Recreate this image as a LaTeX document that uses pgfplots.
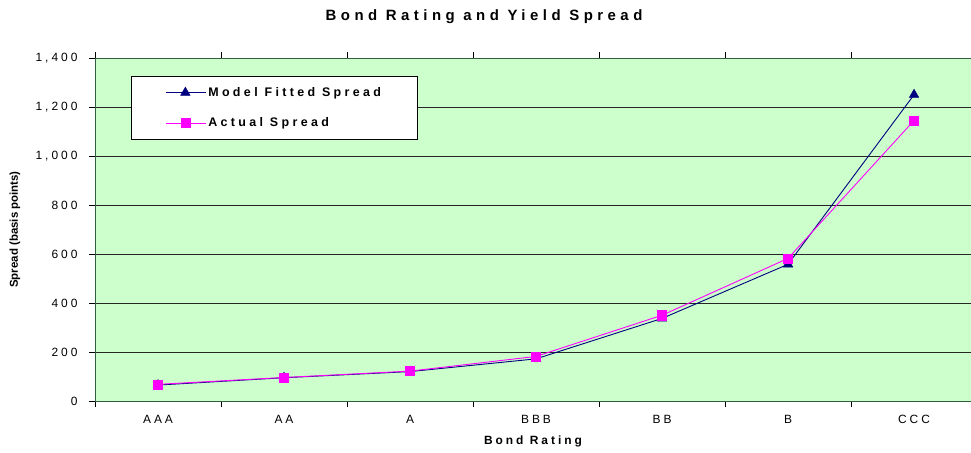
\documentclass[border=0pt]{standalone}
\usepackage{pgfplots}
\pgfplotsset{compat=1.18}
\usepackage{pgfplotstable}
\usepackage{fontspec}
\setmainfont{Liberation Sans}
\newfontfamily\spfont[LetterSpace=25]{Liberation Sans}
\newfontfamily\legfont[LetterSpace=27]{Liberation Sans}
\newfontfamily\titfont[LetterSpace=30]{Liberation Sans}
\definecolor{bg}{HTML}{CCFFCC}
\definecolor{navyc}{HTML}{000080}
\definecolor{magc}{HTML}{FF00FF}
\definecolor{framec}{HTML}{2F5F3F}

\pgfplotstableread{
x model actual
0 65 68
1 95 96
2 120 122
3 172 182
4 337 350
5 558 582
6 1250 1145
}\spreaddata

\begin{document}
\begin{tikzpicture}
\begin{axis}[
  name=main,
  at={(95bp,52bp)}, anchor=south west,
  scale only axis, width=876bp, height=343bp,
  xmin=-0.5, xmax=6.452, ymin=0, ymax=1400,
  axis background/.style={fill=bg},
  axis line style={draw=framec, line width=0.9pt},
  tick align=outside,
  major tick length=6bp, minor tick length=6bp,
  xtick={0,...,6},
  xticklabels={AAA,AA,A,BBB,BB,B,CCC},
  major x tick style={draw=none},
  minor xtick={-0.5,0.5,1.5,2.5,3.5,4.5,5.5},
  minor x tick style={draw=black, line width=0.8pt},
  ytick={0,200,...,1400},
  y tick style={draw=black, line width=0.8pt},
  ymajorgrids,
  major grid style={draw=black!85, line width=0.7pt},
  /pgf/number format/1000 sep={,},
  /pgf/number format/assume math mode=true,
  ticklabel style={font=\spfont\fontsize{12}{14}\selectfont},
  yticklabel style={xshift=-8bp},
  xticklabel style={yshift=-5bp},
  xlabel={Bond Rating},
  xlabel style={font=\spfont\bfseries\fontsize{12}{14}\selectfont, at={(axis description cs:0.5,-0.119)}, anchor=center},
  ylabel={Spread (basis points)},
  ylabel style={font=\bfseries\fontsize{11.5}{13}\selectfont, at={(axis description cs:-0.0913,0.5)}, anchor=center},
  legend cell align=left,
  legend style={at={(axis description cs:0.0411,0.9475)}, anchor=north west, draw=black, fill=white, line width=0.8pt,
    font=\legfont\bfseries\fontsize{12.5}{14}\selectfont, inner xsep=34bp, inner ysep=9bp, row sep=16bp},
  legend image code/.code={\draw[mark repeat=2,mark phase=2,#1] plot coordinates {(3bp,0bp)(19.5bp,0bp)(36bp,0bp)};\path (0bp,0bp) -- (40bp,0bp);},
]
\addplot[navyc, line width=0.9pt, mark=triangle*, mark size=5.5bp, mark options={fill=navyc, draw=navyc, line width=0.5pt}] table[x=x,y=model] {\spreaddata};
\addlegendentry{Model Fitted Spread}
\addplot[magc, line width=0.9pt, mark=square*, mark size=4.5bp, mark options={fill=magc, draw=magc, line width=0.5pt}] table[x=x,y=actual] {\spreaddata};
\addlegendentry{Actual Spread}
\end{axis}
\node[anchor=base, font=\titfont\bfseries\fontsize{15}{17}\selectfont] at (484bp,432bp) {Bond Rating and Yield Spread};
\pgfresetboundingbox
\useasboundingbox (0bp,0bp) rectangle (971bp,453bp);
\end{tikzpicture}
\end{document}
